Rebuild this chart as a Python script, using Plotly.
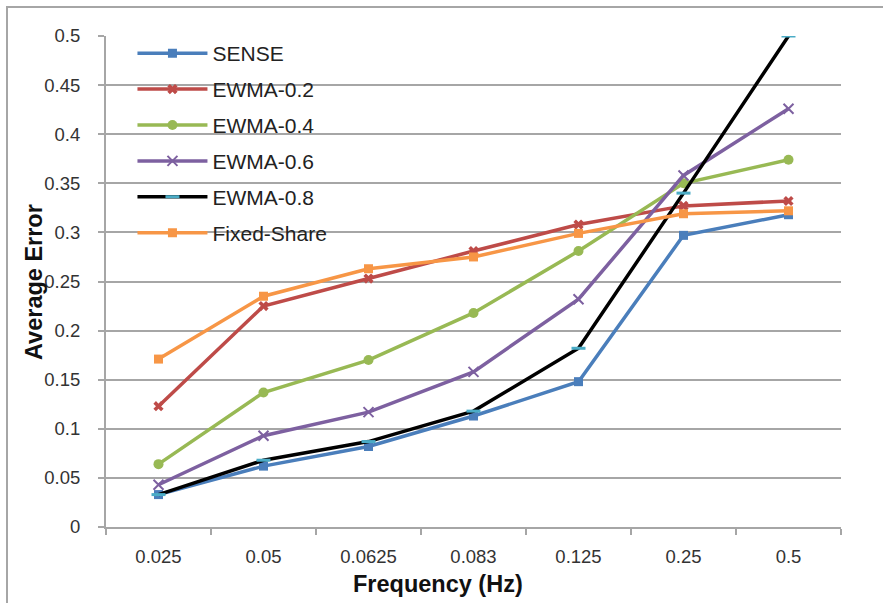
import plotly.graph_objects as go

categories = ["0.025", "0.05", "0.0625", "0.083", "0.125", "0.25", "0.5"]
sense = [0.033, 0.062, 0.082, 0.113, 0.148, 0.297, 0.318]
ewma_02 = [0.123, 0.225, 0.253, 0.281, 0.308, 0.327, 0.332]
ewma_04 = [0.064, 0.137, 0.170, 0.218, 0.281, 0.350, 0.374]
ewma_06 = [0.043, 0.093, 0.117, 0.158, 0.232, 0.358, 0.426]
ewma_08 = [0.033, 0.068, 0.087, 0.118, 0.182, 0.340, 0.500]
fixed_share = [0.171, 0.235, 0.263, 0.275, 0.299, 0.319, 0.322]
y_ticks = [0, 0.05, 0.1, 0.15, 0.2, 0.25, 0.3, 0.35, 0.4, 0.45, 0.5]
y_tick_labels = ["0", "0.05", "0.1", "0.15", "0.2", "0.25", "0.3", "0.35", "0.4", "0.45", "0.5"]

FONT = "Liberation Sans, Arial, sans-serif"
TXT = "#333333"

series = [
    ("SENSE", sense, "#4A7EBB", dict(symbol="square", size=9, color="#4A7EBB")),
    ("EWMA-0.2", ewma_02, "#BE4B48", dict(symbol="x", size=9, color="#BE4B48")),
    ("EWMA-0.4", ewma_04, "#98B954", dict(symbol="circle", size=10, color="#98B954")),
    ("EWMA-0.6", ewma_06, "#7D60A0", dict(symbol="x-thin-open", size=10, color="#7D60A0",
                                           line=dict(width=2, color="#7D60A0"))),
    ("EWMA-0.8", ewma_08, "#000000", dict(symbol="line-ew-open", size=10, color="#4BACC6",
                                           line=dict(width=3, color="#4BACC6"))),
    ("Fixed-Share", fixed_share, "#F79646", dict(symbol="square", size=9, color="#F79646")),
]

fig = go.Figure()
for i, (name, vals, color, marker) in enumerate(series):
    fig.add_trace(go.Scatter(
        x=categories, y=vals, name=name, mode="lines+markers",
        line=dict(color=color, width=3.5), marker=marker,
        legendgroup=f"g{i}",
    ))

fig.update_layout(
    width=883, height=603,
    margin=dict(l=106, r=42, t=36, b=76),
    paper_bgcolor="white", plot_bgcolor="white",
    font=dict(family=FONT, size=18.5, color=TXT),
    showlegend=True,
    legend=dict(
        x=0.036, y=1.006, xanchor="left", yanchor="top",
        bgcolor="rgba(0,0,0,0)", font=dict(size=21, color="#222222", family=FONT),
        tracegroupgap=5.6, itemwidth=70,
    ),
    xaxis=dict(
        type="category", range=[-0.5, 6.5], showgrid=False,
        showline=True, linecolor="#A6A6A6", linewidth=2,
        ticks="outside", ticklen=6, tickcolor="#A6A6A6", tickwidth=2,
        tickson="boundaries", ticklabelstandoff=12,
        tickfont=dict(size=18.5, color=TXT),
    ),
    yaxis=dict(
        range=[0, 0.5], tickvals=y_ticks, ticktext=y_tick_labels,
        showgrid=True, gridcolor="#A6A6A6", gridwidth=2,
        showline=True, linecolor="#A6A6A6", linewidth=2,
        ticks="outside", ticklen=6, tickcolor="#A6A6A6", tickwidth=2,
        ticklabelstandoff=14, zeroline=False,
        tickfont=dict(size=18.5, color=TXT),
    ),
    annotations=[
        dict(text="<b>Frequency (Hz)</b>", xref="paper", yref="paper",
             x=(438 - 106) / 735, y=(527 - 584) / 491, xanchor="center", yanchor="middle",
             showarrow=False, font=dict(size=23.5, color="#111111", family=FONT)),
        dict(text="<b>Average Error</b>", xref="paper", yref="paper", textangle=-90,
             x=(34 - 106) / 735, y=(527 - 282) / 491, xanchor="center", yanchor="middle",
             showarrow=False, font=dict(size=23.5, color="#111111", family=FONT)),
    ],
    shapes=[dict(type="rect", xref="paper", yref="paper",
                 x0=(7 - 106) / 735, x1=1.2, y0=-0.3, y1=(527 - 7) / 491,
                 line=dict(color="#A6A6A6", width=2), layer="below")],
)

fig.write_html("out.html")
